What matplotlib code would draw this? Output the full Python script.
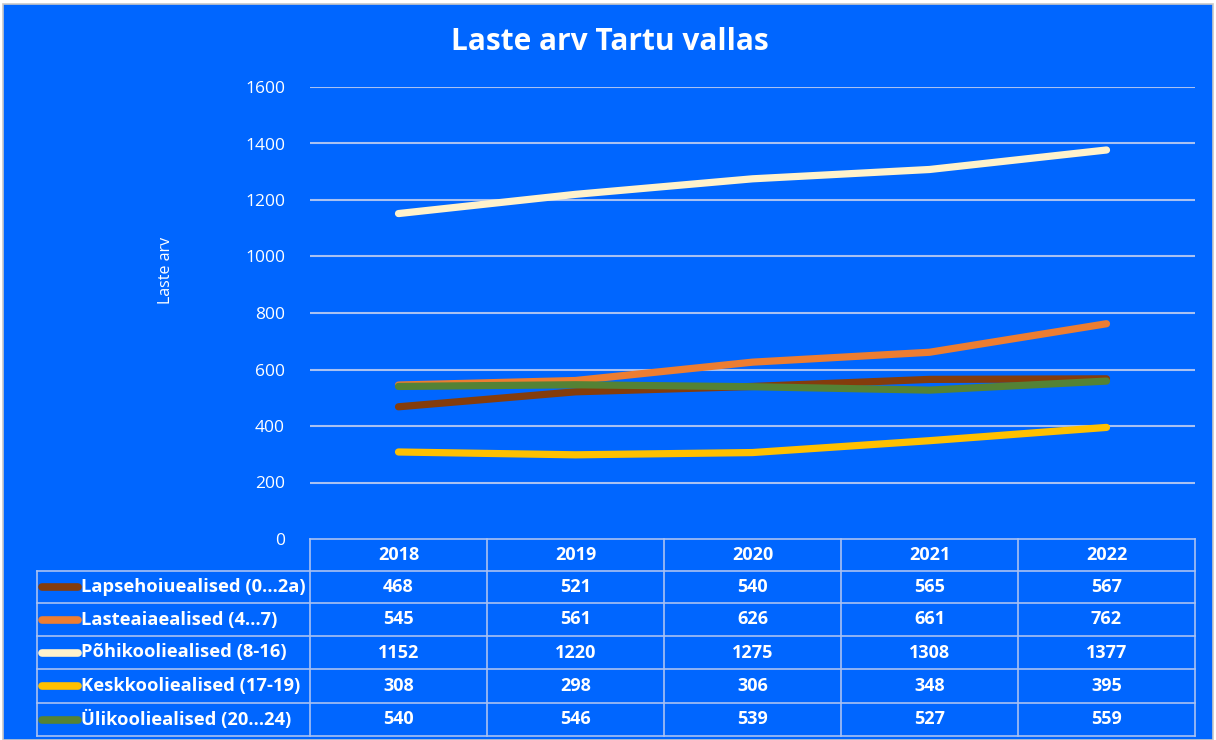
import matplotlib.pyplot as plt
from matplotlib.patches import Rectangle
from matplotlib.lines import Line2D

plt.rcParams['font.family'] = ['Open Sans', 'DejaVu Sans']

BG = '#0066FF'
GRID = '#A9C1F2'

years = ['2018', '2019', '2020', '2021', '2022']
labels = ['Lapsehoiuealised (0…2a)', 'Lasteaiaealised (4…7)',
          'Põhikooliealised (8-16)', 'Keskkooliealised (17-19)',
          'Ülikooliealised (20…24)']
lapsehoid = [468, 521, 540, 565, 567]
lasteaed = [545, 561, 626, 661, 762]
pohikool = [1152, 1220, 1275, 1308, 1377]
keskkool = [308, 298, 306, 348, 395]
ylikool = [540, 546, 539, 527, 559]
colors = ['#843C0C', '#ED7D31', '#FFF2CC', '#FFC000', '#548235']
series = [lapsehoid, lasteaed, pohikool, keskkool, ylikool]

W, H = 1216, 740
fig = plt.figure(figsize=(W / 100, H / 100), dpi=100, facecolor='white')
fig.patches.append(Rectangle((3 / W, 0), (W - 6) / W, (H - 4) / H,
                             transform=fig.transFigure, facecolor=BG,
                             edgecolor='#C8C8C8', lw=1.2, zorder=-5))


def fx(px):
    return px / W


def fy(py):
    return 1 - py / H


left, right, top, bottom = 310, 1195, 87, 539
ax = fig.add_axes([fx(left), fy(bottom), fx(right - left), (bottom - top) / H])
ax.set_facecolor('none')
x = list(range(len(years)))
for vals, c in zip(series, colors):
    ax.plot(x, vals, color=c, lw=5.2, solid_capstyle='round', zorder=3)
ax.set_xlim(-0.5, len(years) - 0.5)
ax.set_ylim(0, 1600)
ax.set_yticks(range(0, 1601, 200))
ax.tick_params(axis='y', length=0, pad=18, labelsize=12.5, labelcolor='white')
ax.set_xticks([])
for s in ax.spines.values():
    s.set_visible(False)
for t in range(200, 1601, 200):
    ax.axhline(t, color=GRID, lw=1.5, zorder=1)

fig.text(fx(610), fy(42), 'Laste arv Tartu vallas', color='white',
         fontsize=21.5, fontweight='bold', ha='center', va='center')
fig.text(fx(166), fy(270), 'Laste arv', color='white', fontsize=11.5,
         rotation=90, ha='center', va='center')

# table below the plot
col_edges = [310, 487, 664, 841, 1018, 1195]
row_edges = [539, 571, 603, 636, 669, 703, 736]
tab_left = 37
lk = dict(color=GRID, lw=1.2, transform=fig.transFigure)
fig.add_artist(Line2D([fx(310), fx(1195)], [fy(539), fy(539)], **lk))
for ry in row_edges[1:]:
    fig.add_artist(Line2D([fx(tab_left), fx(1195)], [fy(ry), fy(ry)], **lk))
for cx in col_edges:
    fig.add_artist(Line2D([fx(cx), fx(cx)], [fy(539), fy(736)], **lk))
fig.add_artist(Line2D([fx(tab_left), fx(tab_left)], [fy(571), fy(736)], **lk))

for j, yr in enumerate(years):
    cx = (col_edges[j] + col_edges[j + 1]) / 2
    fig.text(fx(cx), fy(555), yr, color='white', fontsize=13,
             fontweight='bold', ha='center', va='center')

for i, (lab, vals, c) in enumerate(zip(labels, series, colors)):
    cy = (row_edges[i + 1] + row_edges[i + 2]) / 2
    fig.add_artist(Line2D([fx(42), fx(78)], [fy(cy), fy(cy)], color=c,
                          lw=5.5, solid_capstyle='round',
                          transform=fig.transFigure))
    fig.text(fx(81), fy(cy), lab, color='white', fontsize=13.2,
             fontweight='bold', ha='left', va='center')
    for j, v in enumerate(vals):
        cx = (col_edges[j] + col_edges[j + 1]) / 2
        fig.text(fx(cx), fy(cy), str(v), color='white', fontsize=13,
                 fontweight='bold', ha='center', va='center')

fig.savefig('out.png', dpi=100, facecolor=fig.get_facecolor())
